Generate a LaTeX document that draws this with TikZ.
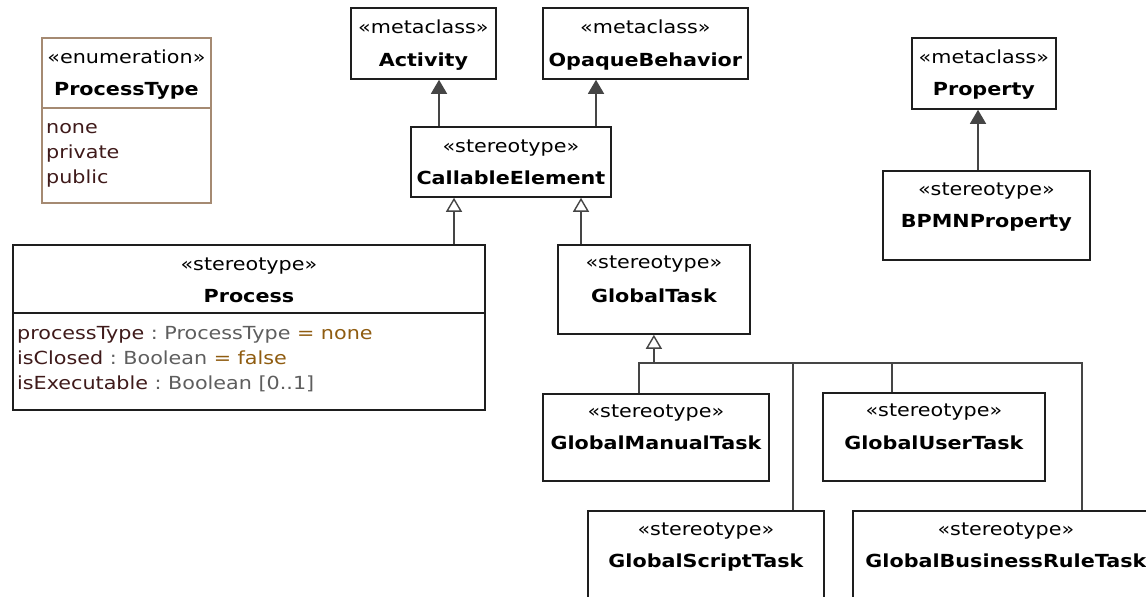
\documentclass[tikz,border=0pt]{standalone}
\usepackage{fontspec}
\setmainfont{DejaVu Sans}[FakeStretch=1.15]
\usetikzlibrary{arrows.meta,calc}
\definecolor{boxline}{HTML}{1E1E1E}
\definecolor{conn}{HTML}{454545}
\definecolor{enumline}{HTML}{A58A72}
\definecolor{attrname}{HTML}{3F1A1A}
\definecolor{attrtype}{HTML}{5E5E5E}
\definecolor{attrval}{HTML}{8F5C10}
\tikzset{
  umlbox/.style={draw=boxline, line width=1.8pt, fill=white, rectangle, inner sep=0pt, anchor=north west},
  enumbox/.style={umlbox, draw=enumline},
  ster/.style={anchor=base, inner sep=0pt, font=\fontsize{18}{22}\selectfont, text=black},
  cname/.style={anchor=base, inner sep=0pt, font=\fontsize{18}{22}\selectfont\bfseries, text=black},
  attr/.style={anchor=base west, inner sep=0pt, font=\fontsize{18}{22}\selectfont},
  ext/.style={draw=conn, line width=1.4pt, -{Triangle[length=14pt,width=16pt,fill=conn]}},
  gen/.style={draw=conn, line width=1.4pt, -{Triangle[open,length=14pt,width=16pt,fill=white]}},
  tree/.style={draw=conn, line width=1.4pt},
}
\begin{document}
\begin{tikzpicture}[x=1pt,y=-1pt]
\useasboundingbox (0,0) rectangle (1146,597);
\fill[white] (0,0) rectangle (1146,597);
\clip (0,0) rectangle (1146,597);

% boxes
\node[enumbox, minimum width=169pt, minimum height=165pt] (enum) at (41,37) {};
\node[umlbox, minimum width=145pt, minimum height=71pt] (act) at (350,7) {};
\node[umlbox, minimum width=205pt, minimum height=71pt] (opq) at (542,7) {};
\node[umlbox, minimum width=200pt, minimum height=70pt] (ce) at (410,126) {};
\node[umlbox, minimum width=144pt, minimum height=71pt] (prop) at (911,37) {};
\node[umlbox, minimum width=207pt, minimum height=89pt] (bpmn) at (882,170) {};
\node[umlbox, minimum width=472pt, minimum height=165pt] (proc) at (12,244) {};
\node[umlbox, minimum width=192pt, minimum height=89pt] (gt) at (557,244) {};
\node[umlbox, minimum width=226pt, minimum height=87pt] (gmt) at (542,393) {};
\node[umlbox, minimum width=222pt, minimum height=88pt] (gut) at (822,392) {};
\node[umlbox, minimum width=236pt, minimum height=110pt] (gst) at (587,510) {};
\node[umlbox, minimum width=306pt, minimum height=110pt] (gbr) at (852,510) {};

% compartment dividers
\draw[draw=enumline, line width=1.8pt] ($(enum.north west)+(0,71)$) -- ($(enum.north east)+(0,71)$);
\draw[draw=boxline, line width=1.8pt] ($(proc.north west)+(0,69)$) -- ($(proc.north east)+(0,69)$);

% headers
\node[ster] (enumS) at ([yshift=-26pt]enum.north) {«enumeration»};
\node[cname] (enumN) at ([yshift=-58pt]enum.north) {ProcessType};
\node[ster] (actS) at ([yshift=-26pt]act.north) {«metaclass»};
\node[cname] (actN) at ([yshift=-59pt]act.north) {Activity};
\node[ster] (opqS) at ([yshift=-26pt]opq.north) {«metaclass»};
\node[cname] (opqN) at ([yshift=-59pt]opq.north) {OpaqueBehavior};
\node[ster] (ceS) at ([yshift=-26pt]ce.north) {«stereotype»};
\node[cname] (ceN) at ([yshift=-58pt]ce.north) {CallableElement};
\node[ster] (propS) at ([yshift=-26pt]prop.north) {«metaclass»};
\node[cname] (propN) at ([yshift=-58pt]prop.north) {Property};
\node[ster] (bpmnS) at ([yshift=-25pt]bpmn.north) {«stereotype»};
\node[cname] (bpmnN) at ([yshift=-57pt]bpmn.north) {BPMNProperty};
\node[ster] (procS) at ([yshift=-26pt]proc.north) {«stereotype»};
\node[cname] (procN) at ([yshift=-58pt]proc.north) {Process};
\node[ster] (gtS) at ([yshift=-24pt]gt.north) {«stereotype»};
\node[cname] (gtN) at ([yshift=-58pt]gt.north) {GlobalTask};
\node[ster] (gmtS) at ([yshift=-24pt]gmt.north) {«stereotype»};
\node[cname] (gmtN) at ([yshift=-56pt]gmt.north) {GlobalManualTask};
\node[ster] (gutS) at ([yshift=-24pt]gut.north) {«stereotype»};
\node[cname] (gutN) at ([yshift=-57pt]gut.north) {GlobalUserTask};
\node[ster] (gstS) at ([yshift=-25pt]gst.north) {«stereotype»};
\node[cname] (gstN) at ([yshift=-57pt]gst.north) {GlobalScriptTask};
\node[ster] (gbrS) at ([yshift=-25pt]gbr.north) {«stereotype»};
\node[cname] (gbrN) at ([yshift=-57pt]gbr.north) {GlobalBusinessRuleTask};

% enumeration literals
\node[attr, text=attrname] (lit1) at ($(enum.north west)+(5,96)$) {none};
\node[attr, text=attrname] (lit2) at ($(enum.north west)+(5,121)$) {private};
\node[attr, text=attrname] (lit3) at ($(enum.north west)+(5,146)$) {public};

% attributes
\node[attr] (at1) at ($(proc.north west)+(5,95)$) {\textcolor{attrname}{processType}\textcolor{attrtype}{\ :\ ProcessType\ }\textcolor{attrval}{=\ none}};
\node[attr] (at2) at ($(proc.north west)+(5,120)$) {\textcolor{attrname}{isClosed}\textcolor{attrtype}{\ :\ Boolean\ }\textcolor{attrval}{=\ false}};
\node[attr] (at3) at ($(proc.north west)+(5,145)$) {\textcolor{attrname}{isExecutable}\textcolor{attrtype}{\ :\ Boolean\ [0..1]}};

% extension connectors
\coordinate (xa) at (439,0);
\coordinate (xo) at (596,0);
\coordinate (xp) at (978,0);
\draw[ext] (ce.north -| xa) -- (act.south -| xa);
\draw[ext] (ce.north -| xo) -- (opq.south -| xo);
\draw[ext] (bpmn.north -| xp) -- (prop.south -| xp);

% generalizations to CallableElement
\coordinate (gp) at (454,0);
\coordinate (gg) at (581,0);
\draw[gen] (proc.north -| gp) -- (ce.south -| gp);
\draw[gen] (gt.north -| gg) -- (ce.south -| gg);

% generalization tree to GlobalTask
\coordinate (jn) at (0,363);
\coordinate (c1) at (639,0);
\coordinate (c2) at (793,0);
\coordinate (c3) at (892,0);
\coordinate (c4) at (1082,0);
\draw[tree] (gmt.north -| c1) |- (gt.south |- jn);
\draw[tree] (gst.north -| c2) |- (gt.south |- jn);
\draw[tree] (gut.north -| c3) |- (gt.south |- jn);
\draw[tree] (gbr.north -| c4) |- (gt.south |- jn);
\draw[gen] (gt.south |- jn) -- (gt.south);
\end{tikzpicture}
\end{document}
